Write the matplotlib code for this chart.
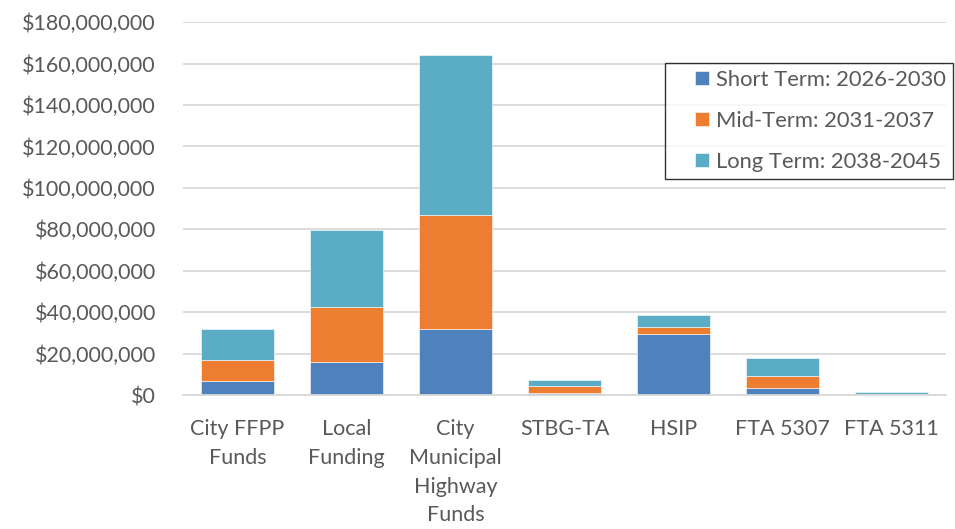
import matplotlib.pyplot as plt
from matplotlib.ticker import FuncFormatter, MultipleLocator
from matplotlib.legend_handler import HandlerPatch, update_from_first_child
from matplotlib.patches import Rectangle
from matplotlib.container import BarContainer
import numpy as np

plt.rcParams['font.family'] = ['Lato', 'DejaVu Sans']

# funding sources and amounts per term (USD)
sources = ['City FFPP\nFunds', 'Local\nFunding', 'City\nMunicipal\nHighway\nFunds',
           'STBG-TA', 'HSIP', 'FTA 5307', 'FTA 5311']
short_term = [6.6e6, 16.1e6, 31.9e6, 1.0e6, 29.6e6, 3.5e6, 0.2e6]
mid_term = [10.4e6, 26.2e6, 55.0e6, 3.2e6, 3.2e6, 5.5e6, 0.3e6]
long_term = [15.0e6, 37.5e6, 77.2e6, 3.2e6, 5.8e6, 8.9e6, 0.8e6]
labels = ['Short Term: 2026-2030', 'Mid-Term: 2031-2037', 'Long Term: 2038-2045']
colors = ['#4F81BD', '#ED7D31', '#5BADC6']

text_col = '#595959'
grid_col = '#D9D9D9'


def square_handle(legend, orig_handle, xdescent, ydescent, width, height, fontsize):
    # small square at the right end of the handle box
    s = height * 0.95
    return Rectangle((-xdescent + width - s, -ydescent + (height - s) / 2), s, s)


fig = plt.figure(figsize=(9.55, 5.29), dpi=100)
ax = fig.add_axes([0.1916, 0.2533, 0.7990, 0.7047])

x = np.arange(len(sources))
short = np.array(short_term)
mid = np.array(mid_term)
lng = np.array(long_term)
w = 0.667
ax.bar(x, short, w, color=colors[0], label=labels[0], edgecolor='white', linewidth=0.4)
ax.bar(x, mid, w, bottom=short, color=colors[1], label=labels[1], edgecolor='white', linewidth=0.4)
ax.bar(x, lng, w, bottom=short + mid, color=colors[2], label=labels[2], edgecolor='white', linewidth=0.4)

ax.set_xlim(-0.5, len(sources) - 0.5)
ax.set_ylim(0, 180e6)
ax.yaxis.set_major_locator(MultipleLocator(20e6))
ax.yaxis.set_major_formatter(FuncFormatter(lambda v, p: f'${v:,.0f}'))
ax.set_xticks(x)
ax.set_xticklabels(sources, linespacing=1.56, va='top')
ax.tick_params(axis='both', length=0, labelsize=15.5, labelcolor=text_col)
ax.tick_params(axis='y', pad=19.5)
ax.tick_params(axis='x', pad=17)
ax.grid(axis='y', color=grid_col, linewidth=1.3)
ax.set_axisbelow(True)
for s in ['top', 'right', 'left']:
    ax.spines[s].set_visible(False)
ax.spines['bottom'].set_color(grid_col)
ax.spines['bottom'].set_linewidth(1.3)

handler = HandlerPatch(patch_func=square_handle, update_func=update_from_first_child)
leg = ax.legend(loc='upper right', bbox_to_anchor=(0.998, 0.881),
                bbox_transform=fig.transFigure, fontsize=15.8, frameon=True,
                fancybox=False, edgecolor='black', handlelength=1.7, handleheight=0.68,
                handletextpad=0.33, labelspacing=0.95, borderpad=0.32, borderaxespad=0,
                handler_map={BarContainer: handler})
leg.get_frame().set_linewidth(1.0)
for t in leg.get_texts():
    t.set_color(text_col)

fig.savefig('out.png', dpi=100)
